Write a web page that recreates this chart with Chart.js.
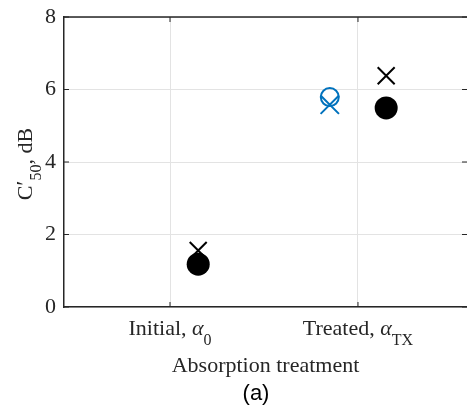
<!DOCTYPE html>
<html>
<head>
<meta charset="utf-8">
<script src="https://cdn.jsdelivr.net/npm/chart.js@4/dist/chart.umd.min.js"></script>
<style>
  html, body { margin: 0; padding: 0; background: #fff; }
  #wrap { width: 467px; height: 413px; }
</style>
</head>
<body>
<div id="wrap"><canvas id="c50Chart" width="467" height="413"></canvas></div>
<script>
// Données
const categories = ['Initial', 'Treated'];
const categorySubs = ['0', 'TX'];
const blackCircle = [1.18, 5.49];
const blackCross = [1.56, 6.38];
const blueCircle = [null, 5.79];
const blueCross = [null, 5.58];
const yTicks = [0, 2, 4, 6, 8];
const xLabel = 'Absorption treatment';
const panelLabel = '(a)';

const BLUE = '#0072BD';
const AXIS = '#262626';
const GRID = '#e3e3e3';
const SERIF = 'Liberation Serif, Times New Roman, serif';

// position des points : catégorie + décalage
const toPoints = (vals, offset) => vals
    .map((v, i) => v === null ? null : { x: i + 1 + offset, y: v })
    .filter(p => p !== null);

// Dessine un texte avec indices (segments)
function drawRich(ctx, segs, cx, y) {
    let total = 0;
    segs.forEach(s => { ctx.font = s.f; total += ctx.measureText(s.t).width; });
    let x = cx - total / 2;
    segs.forEach(s => {
        ctx.font = s.f;
        ctx.fillText(s.t, x, y + (s.dy || 0));
        x += ctx.measureText(s.t).width;
    });
}

const decorations = {
    id: 'decorations',
    afterDraw(chart) {
        const { ctx, chartArea: a, scales } = chart;
        const xs = scales.x, ys = scales.y;
        ctx.save();

        // bordure du haut
        ctx.strokeStyle = AXIS;
        ctx.lineWidth = 1.5;
        ctx.beginPath();
        ctx.moveTo(a.left, a.top);
        ctx.lineTo(a.right, a.top);
        ctx.stroke();

        // graduations vers l'intérieur
        ctx.lineWidth = 1;
        ctx.beginPath();
        yTicks.forEach(v => {
            const py = ys.getPixelForValue(v);
            ctx.moveTo(a.left, py); ctx.lineTo(a.left + 5, py);
            ctx.moveTo(a.right, py); ctx.lineTo(a.right - 5, py);
        });
        categories.forEach((c, i) => {
            const px = xs.getPixelForValue(i + 1);
            ctx.moveTo(px, a.bottom); ctx.lineTo(px, a.bottom - 5);
            ctx.moveTo(px, a.top); ctx.lineTo(px, a.top + 5);
        });
        ctx.stroke();

        // libellés des catégories
        ctx.fillStyle = AXIS;
        ctx.textBaseline = 'alphabetic';
        ctx.textAlign = 'left';
        categories.forEach((c, i) => {
            const px = xs.getPixelForValue(i + 1);
            drawRich(ctx, [
                { t: c + ', ', f: '22px ' + SERIF },
                { t: 'α', f: 'italic 22px ' + SERIF },
                { t: categorySubs[i], f: '16px ' + SERIF, dy: 10 }
            ], px, 335);
        });

        // titre de l'axe x
        ctx.font = '22px ' + SERIF;
        ctx.textAlign = 'center';
        ctx.fillText(xLabel, (a.left + a.right) / 2, 372);
        ctx.textAlign = 'left';

        // titre de l'axe y (avec indice)
        ctx.save();
        ctx.translate(32, (a.top + a.bottom) / 2 + 2);
        ctx.rotate(-Math.PI / 2);
        drawRich(ctx, [
            { t: 'C', f: '22px ' + SERIF },
            { t: '′', f: '24px ' + SERIF },
            { t: '50', f: '16px ' + SERIF, dy: 9 },
            { t: ', dB', f: '22px ' + SERIF }
        ], 0, 0);
        ctx.restore();

        // étiquette du panneau
        ctx.fillStyle = '#000';
        ctx.font = '22px Liberation Sans, Arial, sans-serif';
        ctx.textAlign = 'center';
        ctx.fillText(panelLabel, 256, 400);

        ctx.restore();
    }
};

(() => {
    const ctx = document.getElementById('c50Chart').getContext('2d');
    new Chart(ctx, {
        type: 'scatter',
        data: {
            datasets: [
                {
                    label: 'blackCross',
                    data: toPoints(blackCross, 0.15),
                    pointStyle: 'crossRot',
                    pointRadius: 12,
                    borderColor: '#000',
                    borderWidth: 2,
                    order: 4
                },
                {
                    label: 'blackCircle',
                    data: toPoints(blackCircle, 0.15),
                    pointStyle: 'circle',
                    pointRadius: 11.5,
                    backgroundColor: '#000',
                    borderColor: '#000',
                    borderWidth: 0,
                    order: 3
                },
                {
                    label: 'blueCircle',
                    data: toPoints(blueCircle, -0.15),
                    pointStyle: 'circle',
                    pointRadius: 9,
                    backgroundColor: 'rgba(0,0,0,0)',
                    borderColor: BLUE,
                    borderWidth: 2,
                    order: 2
                },
                {
                    label: 'blueCross',
                    data: toPoints(blueCross, -0.15),
                    pointStyle: 'crossRot',
                    pointRadius: 13,
                    borderColor: BLUE,
                    borderWidth: 2,
                    order: 1
                }
            ]
        },
        options: {
            responsive: false,
            animation: false,
            events: [],
            layout: { autoPadding: false, padding: { top: 17, left: 0, right: 0, bottom: 0 } },
            plugins: { legend: { display: false }, tooltip: { enabled: false } },
            scales: {
                x: {
                    type: 'linear',
                    min: 0.436,
                    max: 2.58,
                    afterBuildTicks: s => { s.ticks = categories.map((c, i) => ({ value: i + 1 })); },
                    afterFit: s => { s.height = 106; s.paddingLeft = 0; s.paddingRight = 0; },
                    ticks: { display: false },
                    grid: { color: GRID, drawTicks: false },
                    border: { color: AXIS, width: 1.5 }
                },
                y: {
                    min: 0,
                    max: 8,
                    afterBuildTicks: s => { s.ticks = yTicks.map(v => ({ value: v })); },
                    afterFit: s => { s.width = 64; s.paddingTop = 0; s.paddingBottom = 0; },
                    ticks: {
                        padding: 8,
                        color: AXIS,
                        font: { family: SERIF, size: 22 }
                    },
                    grid: { color: GRID, drawTicks: false },
                    border: { color: AXIS, width: 1.5 }
                }
            }
        },
        plugins: [decorations]
    });
})();
</script>
</body>
</html>
